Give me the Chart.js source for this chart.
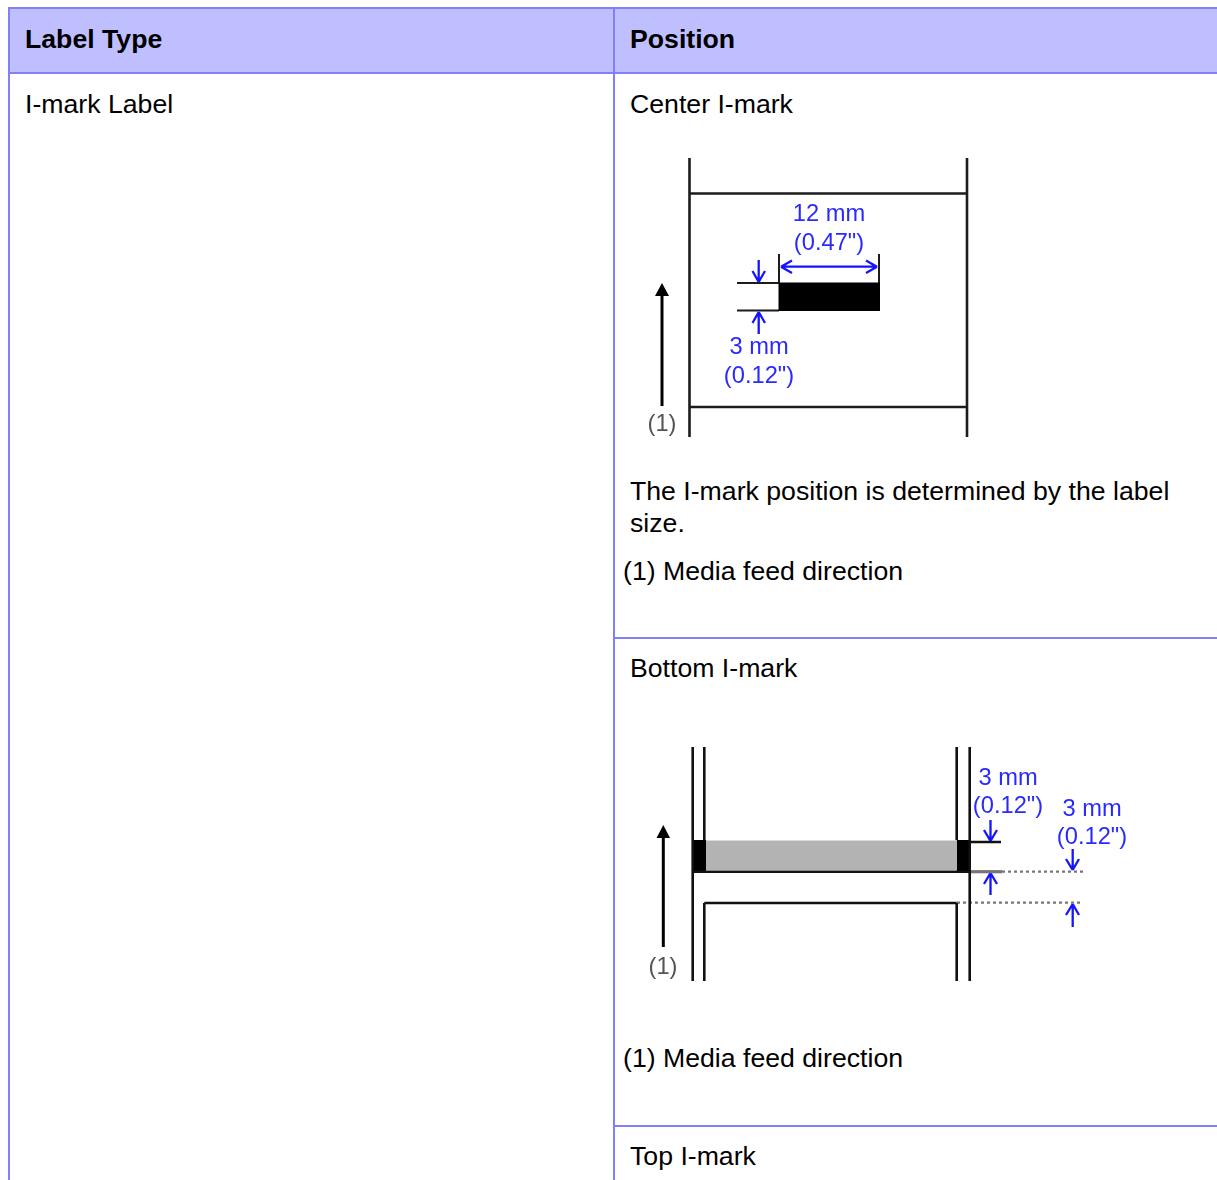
<!DOCTYPE html>
<html>
<head>
<meta charset="utf-8">
<script src="https://cdn.jsdelivr.net/npm/chart.js@4"></script>
<style>
  html, body { margin: 0; background: #fff; overflow: hidden; }
  body { position: relative; width: 1217px; height: 1180px; font-family: "Liberation Sans", Arial, sans-serif; color: #000; }
  .fill, .rule, .txt, canvas { position: absolute; }
  .fill { background: #bfbfff; left: 10px; top: 9px; width: 1207px; height: 64px; }
  .rule { background: #8080ff; }
  .txt { white-space: nowrap; line-height: 32px; font-size: 26.67px; }
  .txt.b { font-weight: bold; }
  canvas { filter: blur(0.6px); }
  #centerChart { left: 630px; top: 150px; }
  #bottomChart { left: 630px; top: 740px; }
</style>
</head>
<body>
<div class="fill"></div>
<div class="rule" style="left:8px;top:7px;width:1209px;height:2px"></div>
<div class="rule" style="left:8px;top:72px;width:1209px;height:2px"></div>
<div class="rule" style="left:8px;top:7px;width:2px;height:1173px"></div>
<div class="rule" style="left:613px;top:7px;width:2px;height:1173px"></div>
<div class="rule" style="left:615px;top:637px;width:602px;height:2px"></div>
<div class="rule" style="left:615px;top:1125px;width:602px;height:2px"></div>

<div class="txt b" style="left:25px;top:23px">Label Type</div>
<div class="txt b" style="left:630px;top:23px">Position</div>
<div class="txt" style="left:25px;top:88px">I-mark Label</div>
<div class="txt" style="left:630px;top:88px">Center I-mark</div>
<div class="txt" style="left:630px;top:475px">The I-mark position is determined by the label<br>size.</div>
<div class="txt" style="left:623px;top:555px">(1) Media feed direction</div>
<div class="txt" style="left:630px;top:652px">Bottom I-mark</div>
<div class="txt" style="left:623px;top:1042px">(1) Media feed direction</div>
<div class="txt" style="left:630px;top:1140px">Top I-mark</div>

<canvas id="centerChart" width="370" height="300"></canvas>
<canvas id="bottomChart" width="520" height="250"></canvas>

<script>
// Center I-mark diagram, segments are [x1, y1, x2, y2] in page pixels
const centerFrame = [[689.5, 158, 689.5, 437], [967, 158, 967, 437], [689.5, 193.5, 967, 193.5], [689.5, 407, 967, 407]];
const centerWitness = [[779, 254, 779, 283], [879, 254, 879, 283], [737, 283, 779, 283], [737, 310.5, 779, 310.5]];
const centerBlue = [
  [781, 266.7, 877, 266.7], [781, 266.7, 792, 260.5], [781, 266.7, 792, 273], [877, 266.7, 866, 260.5], [877, 266.7, 866, 273],
  [758.7, 260, 758.7, 282], [758.7, 282, 752.5, 271], [758.7, 282, 765, 271],
  [758.7, 312, 758.7, 334], [758.7, 312, 752.5, 323], [758.7, 312, 765, 323]
];
const centerArrow = [[662, 406, 662, 292]];
const centerArrowHeadX = [662, 669, 655, 662];
const centerArrowHeadY = [283, 296, 296, 283];
const centerMarkX = [778.5, 880, 880, 778.5, 778.5];
const centerMarkY = [282.5, 282.5, 311, 311, 282.5];
const centerBlueText = ["12 mm", "(0.47\")", "3 mm", "(0.12\")"];
const centerBlueTextX = [829, 829, 759, 759];
const centerBlueTextY = [221, 250, 354, 383];
const centerFeedText = ["(1)"];
const centerFeedTextX = [662];
const centerFeedTextY = [431];

// Bottom I-mark diagram
const bottomFrame = [
  [692.7, 747, 692.7, 981], [969.7, 747, 969.7, 981],
  [704.3, 747, 704.3, 840], [956.7, 747, 956.7, 840],
  [704.3, 903, 704.3, 981], [956.7, 903, 956.7, 981],
  [704.3, 903, 956.7, 903], [693, 871.7, 970, 871.7], [970, 842, 1001, 842]
];
const bottomGreyTick = [[970, 871.7, 1002, 871.7]];
const bottomDashed = [[1002, 871.7, 1083, 871.7], [957, 902.7, 1083, 902.7]];
const bottomBlue = [
  [990.5, 820, 990.5, 841], [990.5, 841, 984, 830], [990.5, 841, 997, 830],
  [990.5, 873, 990.5, 895], [990.5, 873, 984, 884], [990.5, 873, 997, 884],
  [1072.7, 849, 1072.7, 870], [1072.7, 870, 1066, 859], [1072.7, 870, 1079, 859],
  [1072.7, 904, 1072.7, 927], [1072.7, 904, 1066, 915], [1072.7, 904, 1079, 915]
];
const bottomArrow = [[663.3, 947, 663.3, 834]];
const bottomArrowHeadX = [663.3, 670, 656.5, 663.3];
const bottomArrowHeadY = [825, 838, 838, 825];
const bottomLeftMarkX = [693, 706, 706, 693, 693];
const bottomRightMarkX = [956.7, 970, 970, 956.7, 956.7];
const bottomMarkY = [840, 840, 872.7, 872.7, 840];
const bottomGreyX = [706, 957, 957, 706, 706];
const bottomGreyY = [840.5, 840.5, 870, 870, 840.5];
const bottomBlueText = ["3 mm", "(0.12\")", "3 mm", "(0.12\")"];
const bottomBlueTextX = [1008, 1008, 1092, 1092];
const bottomBlueTextY = [785, 813, 816, 844];
const bottomFeedText = ["(1)"];
const bottomFeedTextX = [663];
const bottomFeedTextY = [974];

function segments(list, color, width, dash) {
  const data = [];
  list.forEach((s) => {
    data.push({ x: s[0], y: s[1] }, { x: s[2], y: s[3] }, { x: NaN, y: NaN });
  });
  return { data, borderColor: color, borderWidth: width, borderDash: dash || [], spanGaps: false, fill: false };
}

function shape(xs, ys, color) {
  return {
    data: xs.map((x, i) => ({ x, y: ys[i] })),
    borderColor: color,
    backgroundColor: color,
    borderWidth: 0,
    fill: "shape"
  };
}

const textPlugin = {
  id: "diagramText",
  afterDatasetsDraw(chart, args, opts) {
    const ctx = chart.ctx;
    ctx.save();
    ctx.textAlign = "center";
    ctx.textBaseline = "alphabetic";
    opts.groups.forEach((g) => {
      ctx.font = "23.7px 'Liberation Sans', Arial, sans-serif";
      ctx.fillStyle = g.color;
      g.text.forEach((t, i) => {
        ctx.fillText(t, chart.scales.x.getPixelForValue(g.x[i]), chart.scales.y.getPixelForValue(g.y[i]));
      });
    });
    ctx.restore();
  }
};

function draw(id, range, datasets, groups) {
  new Chart(document.getElementById(id).getContext("2d"), {
    type: "line",
    data: { datasets },
    plugins: [textPlugin],
    options: {
      responsive: false,
      animation: false,
      layout: { padding: 0 },
      elements: { point: { radius: 0 }, line: { tension: 0, borderCapStyle: "butt" } },
      scales: {
        x: { type: "linear", display: false, min: range[0], max: range[1] },
        y: { type: "linear", display: false, reverse: true, min: range[2], max: range[3] }
      },
      plugins: { legend: { display: false }, tooltip: { enabled: false }, diagramText: { groups } }
    }
  });
}

draw("centerChart", [630, 1000, 150, 450], [
  segments(centerFrame, "#1c1c1c", 2.6),
  shape(centerMarkX, centerMarkY, "#000"),
  segments(centerWitness, "#1c1c1c", 2),
  segments(centerBlue, "#1414ff", 2.3),
  segments(centerArrow, "#000", 3),
  shape(centerArrowHeadX, centerArrowHeadY, "#000")
], [
  { text: centerBlueText, x: centerBlueTextX, y: centerBlueTextY, color: "#2a2aff" },
  { text: centerFeedText, x: centerFeedTextX, y: centerFeedTextY, color: "#555" }
]);

draw("bottomChart", [630, 1150, 740, 990], [
  shape(bottomGreyX, bottomGreyY, "#b3b3b3"),
  segments(bottomFrame, "#111", 2.6),
  shape(bottomLeftMarkX, bottomMarkY, "#000"),
  shape(bottomRightMarkX, bottomMarkY, "#000"),
  segments(bottomGreyTick, "#777", 3.2),
  segments(bottomDashed, "#777", 2.2, [3, 3]),
  segments(bottomBlue, "#1414ff", 2.3),
  segments(bottomArrow, "#000", 3),
  shape(bottomArrowHeadX, bottomArrowHeadY, "#000")
], [
  { text: bottomBlueText, x: bottomBlueTextX, y: bottomBlueTextY, color: "#2a2aff" },
  { text: bottomFeedText, x: bottomFeedTextX, y: bottomFeedTextY, color: "#555" }
]);
</script>
</body>
</html>
